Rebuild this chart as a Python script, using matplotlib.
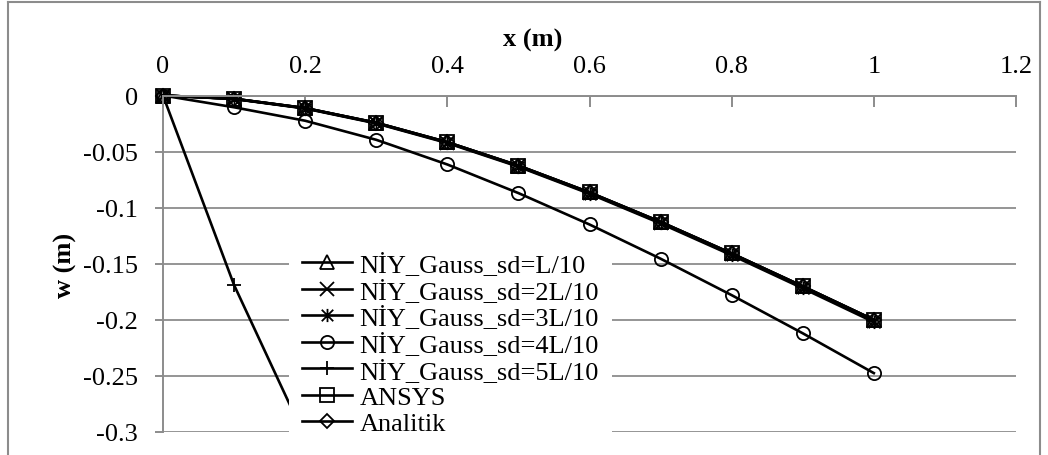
import matplotlib
matplotlib.use("Agg")
import matplotlib.pyplot as plt
from matplotlib.lines import Line2D
from matplotlib.path import Path

# data
x = [0, 0.1, 0.2, 0.3, 0.4, 0.5, 0.6, 0.7, 0.8, 0.9, 1.0]
w_sd1 = [0, -0.0029, -0.0112, -0.0243, -0.0416, -0.0625, -0.0864, -0.1127, -0.1408, -0.1701, -0.2000]
w_sd2 = [0, -0.0030, -0.0114, -0.0246, -0.0420, -0.0630, -0.0870, -0.1134, -0.1416, -0.1710, -0.2010]
w_sd3 = [0, -0.0031, -0.0116, -0.0249, -0.0424, -0.0635, -0.0876, -0.1141, -0.1424, -0.1719, -0.2020]
w_sd4 = [0, -0.0105, -0.0225, -0.0395, -0.0615, -0.0870, -0.1150, -0.1455, -0.1780, -0.2120, -0.2475]
x_sd5 = [0, 0.1, 0.2]
w_sd5 = [0, -0.169, -0.305]
w_ansys = [0, -0.0029, -0.0112, -0.0243, -0.0416, -0.0625, -0.0864, -0.1127, -0.1408, -0.1701, -0.2000]
w_analitik = [0, -0.0029, -0.0112, -0.0243, -0.0416, -0.0625, -0.0864, -0.1127, -0.1408, -0.1701, -0.2000]

labels = ["NİY_Gauss_sd=L/10", "NİY_Gauss_sd=2L/10", "NİY_Gauss_sd=3L/10",
          "NİY_Gauss_sd=4L/10", "NİY_Gauss_sd=5L/10", "ANSYS", "Analitik"]
xticks = [0, 0.2, 0.4, 0.6, 0.8, 1.0, 1.2]
xtick_labels = ["0", "0.2", "0.4", "0.6", "0.8", "1", "1.2"]
yticks = [0, -0.05, -0.1, -0.15, -0.2, -0.25, -0.3]
ytick_labels = ["0", "-0.05", "-0.1", "-0.15", "-0.2", "-0.25", "-0.3"]

plt.rcParams["font.family"] = ["Liberation Serif", "DejaVu Serif"]
FS = 19
GRAY = "#8c8c8c"

# Excel-style asterisk: x plus a vertical bar
asterisk = Path([(-1, -1), (1, 1), (-1, 1), (1, -1), (0, -1.15), (0, 1.15)],
                [Path.MOVETO, Path.LINETO] * 3)

W, H = 1048, 456
fig = plt.figure(figsize=(W / 100, H / 100), dpi=100)
ax = fig.add_axes([163 / W, (H - 433) / H, (1016 - 163) / W, (433 - 96.5) / H])

style = dict(color="black", lw=1.9, ms=9.5, mew=1.3, mfc="none", mec="black")
series = [
    (x, w_sd1, "^", {}),
    (x, w_sd2, "x", {}),
    (x, w_sd3, asterisk, {}),
    (x, w_sd4, "o", {}),
    (x_sd5, w_sd5, "+", {"clip_on": True}),
    (x, w_ansys, "s", {}),
    (x, w_analitik, "D", {"ms": 6.8}),
]
for (xs, ys, mk, extra), lab in zip(series, labels):
    kw = dict(style)
    kw["clip_on"] = False
    kw.update(extra)
    ax.plot(xs, ys, marker=mk, label=lab, **kw)

ax.set_xlim(0, 1.2)
ax.set_ylim(-0.3, 0)
ax.xaxis.tick_top()
ax.set_xticks(xticks)
ax.set_xticklabels(xtick_labels)
ax.set_yticks(yticks)
ax.set_yticklabels(ytick_labels)
ax.tick_params(axis="x", direction="in", length=8, width=1.4, color=GRAY,
               labelsize=FS, pad=13)
ax.tick_params(axis="y", direction="out", length=6, width=1.4, color=GRAY,
               labelsize=FS, pad=12)
ax.grid(axis="y", color=GRAY, lw=1.3)
ax.set_axisbelow(True)
for side in ("right", "bottom"):
    ax.spines[side].set_visible(False)
for side in ("top", "left"):
    ax.spines[side].set_color(GRAY)
    ax.spines[side].set_linewidth(1.4)

fig.text(533 / W, 1 - 40 / H, "x (m)", ha="center", va="center",
         fontsize=FS, fontweight="bold")
fig.text(65 / W, 1 - 265 / H, "w (m)", ha="center", va="center",
         rotation=90, fontsize=FS, fontweight="bold")

leg = ax.legend(loc="upper left", bbox_to_anchor=(289 / W, 1 - 240 / H),
                bbox_transform=fig.transFigure, fontsize=FS, frameon=True,
                fancybox=False, framealpha=1, edgecolor="white",
                borderaxespad=0, borderpad=0.5, handlelength=1.9,
                handletextpad=0.27, labelspacing=0.1, numpoints=1)
leg.get_frame().set_linewidth(0)
leg.set_zorder(10)

# outer chart frame
for xs, ys in [((8 / W, 8 / W), (0, 1 - 3 / H)),
               ((8 / W, 1040 / W), (1 - 3 / H, 1 - 3 / H)),
               ((1040 / W, 1040 / W), (0, 1 - 3 / H))]:
    fig.add_artist(Line2D(xs, ys, color=GRAY, lw=1.5, transform=fig.transFigure))

fig.savefig("out.png", dpi=100)
